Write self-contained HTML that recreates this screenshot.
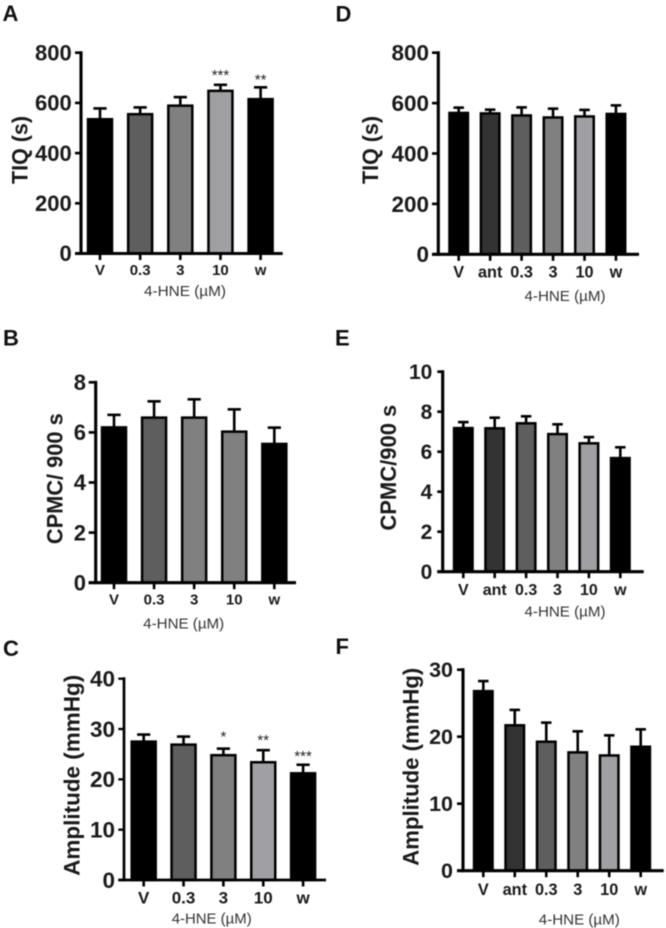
<!DOCTYPE html>
<html lang="en">
<head>
<meta charset="utf-8">
<title>4-HNE bar chart panels</title>
<style>
html,body{margin:0;padding:0;background:#fff;}
svg{display:block;filter:blur(0.45px);}
text{font-family:"Liberation Sans",Arial,sans-serif;}
.letter{font-size:22px;font-weight:bold;fill:#111;}
.ytitle{font-weight:bold;fill:#1a1a1a;text-anchor:middle;}
.xtitle{font-weight:normal;fill:#333;text-anchor:middle;}
</style>
</head>
<body>
<svg id="figure" xmlns="http://www.w3.org/2000/svg" width="666" height="928" viewBox="0 0 666 928">
  <rect x="0" y="0" width="666" height="928" fill="#fff"/>

  <g id="panel-a">
    <text class="letter" x="2.5" y="20.8">A</text>
    <text class="ytitle" font-size="22" transform="translate(27.7,150) rotate(-90)" textLength="68" lengthAdjust="spacingAndGlyphs">TIQ (s)</text>
    <text class="xtitle" font-size="15" x="185" y="296" textLength="82" lengthAdjust="spacingAndGlyphs">4-HNE (µM)</text>
  </g>
  <g id="panel-b">
    <text class="letter" x="3" y="345.7">B</text>
    <text class="ytitle" font-size="21.8" transform="translate(62.7,478.7) rotate(-90)">CPMC/ 900 s</text>
    <text class="xtitle" font-size="15" x="183.7" y="628.3" textLength="81" lengthAdjust="spacingAndGlyphs">4-HNE (µM)</text>
  </g>
  <g id="panel-c">
    <text class="letter" x="3" y="656">C</text>
    <text class="ytitle" font-size="22.5" transform="translate(79.3,775.3) rotate(-90)" textLength="201" lengthAdjust="spacingAndGlyphs">Amplitude (mmHg)</text>
    <text class="xtitle" font-size="15" x="211.7" y="923.3" textLength="80" lengthAdjust="spacingAndGlyphs">4-HNE (µM)</text>
  </g>
  <g id="panel-d">
    <text class="letter" x="335.5" y="21.7">D</text>
    <text class="ytitle" font-size="22" transform="translate(378,150) rotate(-90)" textLength="68" lengthAdjust="spacingAndGlyphs">TIQ (s)</text>
    <text class="xtitle" font-size="15" x="565" y="301" textLength="81" lengthAdjust="spacingAndGlyphs">4-HNE (µM)</text>
  </g>
  <g id="panel-e">
    <text class="letter" x="335" y="345.3">E</text>
    <text class="ytitle" font-size="22" transform="translate(396,467.7) rotate(-90)">CPMC/900 s</text>
    <text class="xtitle" font-size="15" x="565" y="616.7" textLength="81" lengthAdjust="spacingAndGlyphs">4-HNE (µM)</text>
  </g>
  <g id="panel-f">
    <text class="letter" x="335.5" y="654">F</text>
    <text class="ytitle" font-size="22.5" transform="translate(418.7,766.7) rotate(-90)" textLength="198" lengthAdjust="spacingAndGlyphs">Amplitude (mmHg)</text>
    <text class="xtitle" font-size="15" x="579.3" y="924.3" textLength="81" lengthAdjust="spacingAndGlyphs">4-HNE (µM)</text>
  </g>
</svg>
<script>
// ---- Data ----
const panelACategories = ['V', '0.3', '3', '10', 'w'];
const panelAMeans = [535, 555, 589, 648, 615];
const panelAErrors = [43, 27, 34, 24, 47];
const panelATicks = ['0', '200', '400', '600', '800'];
const panelAStars = ['', '', '', '***', '**'];
const panelAStarLevels = [0, 0, 0, 691, 673];

const panelBCategories = ['V', '0.3', '3', '10', 'w'];
const panelBMeans = [6.2, 6.59, 6.59, 6.03, 5.54];
const panelBErrors = [0.5, 0.65, 0.73, 0.89, 0.65];
const panelBTicks = ['0', '2', '4', '6', '8'];

const panelCCategories = ['V', '0.3', '3', '10', 'w'];
const panelCMeans = [27.5, 26.9, 24.8, 23.4, 21.2];
const panelCErrors = [1.4, 1.6, 1.3, 2.4, 1.7];
const panelCTicks = ['0', '10', '20', '30', '40'];
const panelCStars = ['', '', '*', '**', '***'];
const panelCStarLevels = [0, 0, 27.5, 26.8, 23.6];

const panelDCategories = ['V', 'ant', '0.3', '3', '10', 'w'];
const panelDMeans = [561, 559, 551, 543, 547, 557];
const panelDErrors = [21, 15, 32, 35, 26, 34];
const panelDTicks = ['0', '200', '400', '600', '800'];

const panelECategories = ['V', 'ant', '0.3', '3', '10', 'w'];
const panelEMeans = [7.18, 7.17, 7.42, 6.88, 6.42, 5.68];
const panelEErrors = [0.3, 0.53, 0.35, 0.49, 0.31, 0.54];
const panelETicks = ['0', '2', '4', '6', '8', '10'];

const panelFCategories = ['V', 'ant', '0.3', '3', '10', 'w'];
const panelFMeans = [26.8, 21.7, 19.25, 17.66, 17.2, 18.5];
const panelFErrors = [1.5, 2.3, 2.85, 3.14, 3, 2.6];
const panelFTicks = ['0', '10', '20', '30'];

// ---- Layout and styling ----
const SVG_NS = 'http://www.w3.org/2000/svg';
const FILL_BY_CATEGORY = {V: '#000', ant: '#333', '0.3': '#5e5e5e', '3': '#808080', '10': '#a0a0a4', w: '#000'};

function el(parent, tag, attrs, text) {
  const node = document.createElementNS(SVG_NS, tag);
  for (const k in attrs) node.setAttribute(k, attrs[k]);
  if (text !== undefined) node.textContent = text;
  parent.appendChild(node);
  return node;
}

function drawPanel(p) {
  const root = document.getElementById('panel-' + p.id);
  const maxVal = Number(p.ticks[p.ticks.length - 1]);
  const yScale = v => p.y0 - (v / maxVal) * (p.y0 - p.yTop);
  const xScale = i => p.xFirst + i * p.xStep;
  const capW = p.barW * 0.5;

  // bars and error bars
  p.categories.forEach((cat, i) => {
    const cx = xScale(i);
    const top = yScale(p.means[i]);
    const errTop = yScale(p.means[i] + p.errors[i]);

    const stem = el(root, 'line', {x1: cx, x2: cx, y1: top, y2: errTop, stroke: '#000', 'stroke-width': 2.6});
    
    

    const cap = el(root, 'line', {x1: cx - capW / 2, x2: cx + capW / 2, y1: errTop, y2: errTop, stroke: '#000', 'stroke-width': 2.6});
    
    

    const bar = el(root, 'rect', {
      x: cx - p.barW / 2 + 1.25, y: top,
      width: p.barW - 2.5, height: Math.max(0, p.y0 - top),
      fill: (p.id === 'b' && cat === '10') ? '#808080' : FILL_BY_CATEGORY[cat],
      stroke: '#000', 'stroke-width': 2.5
    });
    
    

    const tick = el(root, 'line', {x1: cx, x2: cx, y1: p.y0, y2: p.y0 + 6.5, stroke: '#000', 'stroke-width': 2.6});
    
    

    const label = el(root, 'text', {x: cx, y: p.xLabelY, 'font-size': p.xLabelSize, 'font-weight': 'bold', 'text-anchor': 'middle', fill: '#1a1a1a'}, cat);
    
    

    if (p.stars && p.stars[i]) {
      const star = el(root, 'text', {x: cx, y: yScale(p.starLevels[i]), 'font-size': 15, 'text-anchor': 'middle', fill: '#222'}, p.stars[i]);
      
      
    }
  });

  // axes
  const yAxis = el(root, 'line', {x1: p.axisX, x2: p.axisX, y1: p.yTop - 1.4, y2: p.y0 + 1.4, stroke: '#000', 'stroke-width': p.axisW});
  
  

  const xAxis = el(root, 'line', {x1: p.xAxisStart, x2: p.xAxisEnd, y1: p.y0, y2: p.y0, stroke: '#000', 'stroke-width': p.axisW});
  
  

  // y ticks and labels
  p.ticks.forEach(t => {
    const y = yScale(Number(t));
    const tick = el(root, 'line', {x1: p.xAxisStart, x2: p.axisX, y1: y, y2: y, stroke: '#000', 'stroke-width': p.axisW * 0.85});
    
    

    const label = el(root, 'text', {x: p.yLabelX, y: y + p.yLabelSize * 0.35, 'font-size': p.yLabelSize, 'font-weight': 'bold', 'text-anchor': 'end', fill: '#1a1a1a'}, t);
    
    
  });
}

drawPanel({id: 'a', categories: panelACategories, means: panelAMeans, errors: panelAErrors, ticks: panelATicks, stars: panelAStars, starLevels: panelAStarLevels,
  axisX: 81, xAxisStart: 75, xAxisEnd: 282.7, y0: 253.5, yTop: 52.7, xFirst: 100, xStep: 40.15, barW: 26.5, axisW: 3.1, yLabelX: 71.7, yLabelSize: 22, xLabelY: 275, xLabelSize: 15});
drawPanel({id: 'b', categories: panelBCategories, means: panelBMeans, errors: panelBErrors, ticks: panelBTicks,
  axisX: 95.7, xAxisStart: 88.7, xAxisEnd: 296, y0: 582.7, yTop: 382.3, xFirst: 114, xStep: 40.08, barW: 26.5, axisW: 3.1, yLabelX: 86, yLabelSize: 22, xLabelY: 604.3, xLabelSize: 15});
drawPanel({id: 'c', categories: panelCCategories, means: panelCMeans, errors: panelCErrors, ticks: panelCTicks, stars: panelCStars, starLevels: panelCStarLevels,
  axisX: 124, xAxisStart: 118.3, xAxisEnd: 326, y0: 880, yTop: 678.7, xFirst: 143.7, xStep: 39.85, barW: 26.5, axisW: 2.7, yLabelX: 115, yLabelSize: 22.5, xLabelY: 903.3, xLabelSize: 17});
drawPanel({id: 'd', categories: panelDCategories, means: panelDMeans, errors: panelDErrors, ticks: panelDTicks,
  axisX: 438.3, xAxisStart: 432, xAxisEnd: 639, y0: 254.3, yTop: 52.7, xFirst: 458.7, xStep: 31.45, barW: 21, axisW: 3.1, yLabelX: 429, yLabelSize: 22.5, xLabelY: 277.7, xLabelSize: 16.3});
drawPanel({id: 'e', categories: panelECategories, means: panelEMeans, errors: panelEErrors, ticks: panelETicks,
  axisX: 442.7, xAxisStart: 437.3, xAxisEnd: 643.7, y0: 571.7, yTop: 371.7, xFirst: 463.3, xStep: 31.4, barW: 21, axisW: 3.1, yLabelX: 432.3, yLabelSize: 21, xLabelY: 595, xLabelSize: 16});
drawPanel({id: 'f', categories: panelFCategories, means: panelFMeans, errors: panelFErrors, ticks: panelFTicks,
  axisX: 463, xAxisStart: 457, xAxisEnd: 663.7, y0: 870.7, yTop: 669.7, xFirst: 483.3, xStep: 31.48, barW: 21, axisW: 3.1, yLabelX: 453, yLabelSize: 21.5, xLabelY: 895, xLabelSize: 16.3});
</script>
</body>
</html>
